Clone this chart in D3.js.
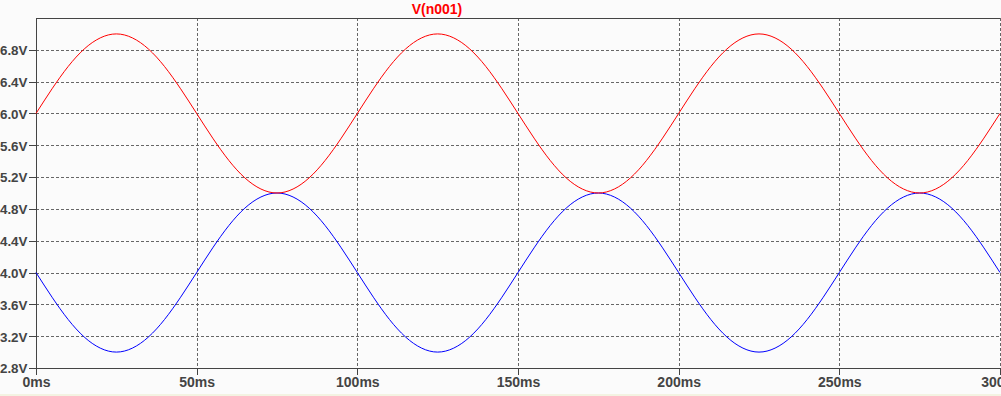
<!DOCTYPE html>
<html><head><meta charset="utf-8">
<script src="https://cdn.jsdelivr.net/npm/d3@7"></script>
<style>
html,body{margin:0;padding:0;background:#fbfbfb;}
svg{display:block;}
text{font-family:"Liberation Sans",Arial,sans-serif;font-weight:bold;}
</style></head>
<body>
<svg id="c" width="1001" height="396"></svg>
<script>
// time samples (ms), 5 ms apart
const timeMs = d3.range(0, 301, 5);
// V(n001) red trace, volts
const redV = [6.00,6.31,6.59,6.81,6.95,7.00,6.95,6.81,6.59,6.31,6.00,5.69,5.41,5.19,5.05,5.00,5.05,5.19,5.41,5.69,
              6.00,6.31,6.59,6.81,6.95,7.00,6.95,6.81,6.59,6.31,6.00,5.69,5.41,5.19,5.05,5.00,5.05,5.19,5.41,5.69,
              6.00,6.31,6.59,6.81,6.95,7.00,6.95,6.81,6.59,6.31,6.00,5.69,5.41,5.19,5.05,5.00,5.05,5.19,5.41,5.69,6.00];
// blue trace
const blueV = [4.00,3.69,3.41,3.19,3.05,3.00,3.05,3.19,3.41,3.69,4.00,4.31,4.59,4.81,4.95,5.00,4.95,4.81,4.59,4.31,
               4.00,3.69,3.41,3.19,3.05,3.00,3.05,3.19,3.41,3.69,4.00,4.31,4.59,4.81,4.95,5.00,4.95,4.81,4.59,4.31,
               4.00,3.69,3.41,3.19,3.05,3.00,3.05,3.19,3.41,3.69,4.00,4.31,4.59,4.81,4.95,5.00,4.95,4.81,4.59,4.31,4.00];
const xTicks = [0,50,100,150,200,250,300];
const xTickLabels = ["0ms","50ms","100ms","150ms","200ms","250ms","300"];
const yTicks = [2.8,3.2,3.6,4.0,4.4,4.8,5.2,5.6,6.0,6.4,6.8];
const yTickLabels = ["2.8V","3.2V","3.6V","4.0V","4.4V","4.8V","5.2V","5.6V","6.0V","6.4V","6.8V"];
const title = "V(n001)";

const svg = d3.select("#c");
const L = 36, R = 1000, T = 18, B = 368;
const x = d3.scaleLinear().domain([0,300]).range([L,R]);
const y = d3.scaleLinear().domain([2.8,7.2]).range([B,T]);
const axisCol = "#444", gridCol = "#666", textCol = "#444";

svg.append("rect").attr("x",0).attr("y",394).attr("width",1001).attr("height",2).attr("fill","#f3f3e2");

// grid
const g = svg.append("g");
g.selectAll("line.vx").data(xTicks.filter(d=>d>0)).join("line")
  .attr("x1",d=>Math.round(x(d))+0.5).attr("x2",d=>Math.round(x(d))+0.5)
  .attr("y1",T).attr("y2",B)
  .attr("stroke",gridCol).attr("stroke-dasharray","3,2").attr("shape-rendering","crispEdges");
g.selectAll("line.hy").data(yTicks.filter(d=>d>2.8)).join("line")
  .attr("y1",d=>Math.round(y(d))+0.5).attr("y2",d=>Math.round(y(d))+0.5)
  .attr("x1",L).attr("x2",R)
  .attr("stroke",gridCol).attr("stroke-dasharray","3,2").attr("shape-rendering","crispEdges");

// axes
const xAxis = d3.axisBottom(x).tickValues(xTicks).tickFormat((d,i)=>xTickLabels[i]).tickSize(6).tickSizeOuter(0).tickPadding(3);
const yAxis = d3.axisLeft(y).tickValues(yTicks).tickFormat((d,i)=>yTickLabels[i]).tickSize(8).tickSizeOuter(0).tickPadding(1);
const gx = svg.append("g").attr("transform",`translate(0,${B+0.5})`).call(xAxis);
const gy = svg.append("g").attr("transform",`translate(${L+0.5},0)`).call(yAxis);
[gx,gy].forEach(a=>{
  a.select(".domain").remove();
  a.selectAll("line").attr("stroke",axisCol).attr("shape-rendering","crispEdges");
  a.selectAll("text").attr("fill",textCol).style("font-size","14px").style("font-family","'Liberation Sans',Arial,sans-serif").style("font-weight","bold");
});
gx.selectAll(".tick").filter(d=>d===300).select("text").attr("text-anchor","end").attr("dx","4");
gy.selectAll("text").attr("dy","0.36em").style("font-size","13.4px");

// frame
svg.append("path").attr("d",`M${L+0.5},${B+0.5}V${T+0.5}H${R}`).attr("fill","none").attr("stroke",axisCol).attr("shape-rendering","crispEdges");
svg.append("line").attr("x1",L).attr("x2",R+1).attr("y1",B+0.5).attr("y2",B+0.5).attr("stroke",axisCol).attr("shape-rendering","crispEdges");

// traces
const line = (vals)=>d3.line().x((d,i)=>x(timeMs[i])).y(d=>y(d)).curve(d3.curveNatural)(vals);
svg.append("path").attr("d",line(blueV)).attr("fill","none").attr("stroke","#0000ff").attr("stroke-width",1);
svg.append("path").attr("d",line(redV)).attr("fill","none").attr("stroke","#ff0000").attr("stroke-width",1);

svg.append("text").attr("x",437).attr("y",14).attr("text-anchor","middle").attr("fill","#ff0000")
  .style("font-size","14px").text(title);
</script>
</body></html>
